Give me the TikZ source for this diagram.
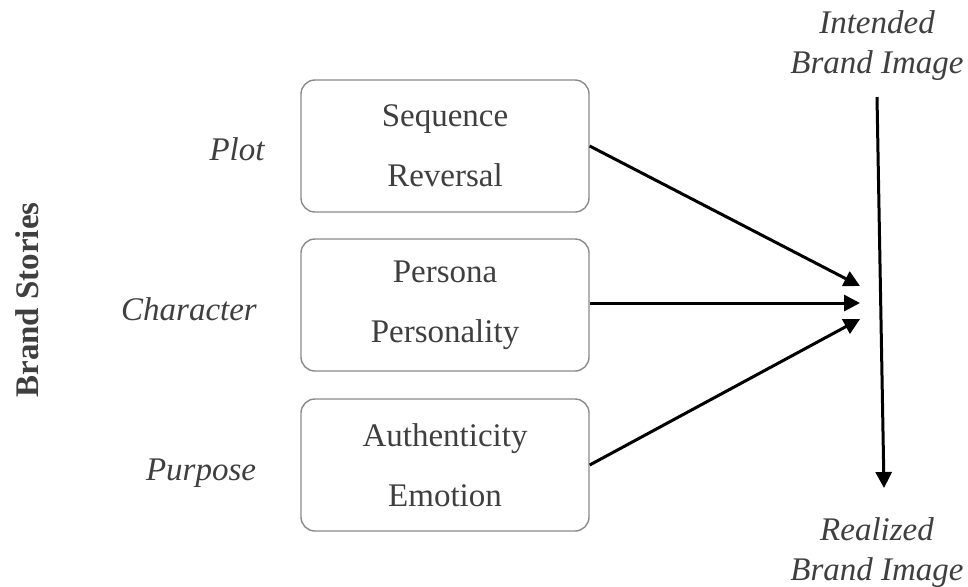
\documentclass[tikz,border=0pt]{standalone}
\usepackage{fontspec}
\setmainfont{Liberation Serif}
\usetikzlibrary{arrows.meta}
\definecolor{txtgray}{HTML}{3F3F3F}
\definecolor{boxgray}{HTML}{8A8A8A}

\begin{document}
\begin{tikzpicture}[x=0.5pt,y=-0.5pt]
            \tikzstyle{every node}=[text=txtgray, font=\fontsize{16.5}{30}\selectfont, inner sep=0pt]
            \tikzstyle{box}=[draw=boxgray, line width=0.7pt, rounded corners=7pt, minimum width=144pt, minimum height=66pt, align=center]
            \tikzstyle{aspect}=[font=\fontsize{16.5}{30}\selectfont\itshape]
            \tikzstyle{image}=[font=\fontsize{16.5}{20}\selectfont\itshape, align=center]
            \tikzstyle{link}=[black, line width=1.5pt, -{Triangle[length=8pt,width=8pt]}]

            \useasboundingbox (0,0) rectangle (968,586);

            \node[font=\fontsize{16.5}{20}\selectfont\bfseries, rotate=90] (stories) at (27,300) {Brand Stories};

            \node[aspect] (plot) at (237,149) {Plot};
            \node[aspect] (character) at (189,309) {Character};
            \node[aspect] (purpose) at (201,473) {Purpose};

            \node[box] (plotbox) at (445,146) {Sequence\\Reversal};
            \node[box] (charbox) at (445,305) {Persona\\Personality};
            \node[box] (purpbox) at (445,465) {Authenticity\\Emotion};

            \node[image] (intended) at (877,46) {Intended\\Brand Image};
            \node[image] (realized) at (877,553) {Realized\\Brand Image};

            \coordinate (top) at (877,97);
            \coordinate (bottom) at (884,488);
            \coordinate (in1) at (860,286);
            \coordinate (in2) at (860,303);
            \coordinate (in3) at (860,319);

            \draw[link] (plotbox.east) -- (in1);
            \draw[link] (charbox.east |- in2) -- (in2);
            \draw[link] (purpbox.east) -- (in3);
            \draw[link] (top) -- (bottom);
        \end{tikzpicture}
\end{document}
